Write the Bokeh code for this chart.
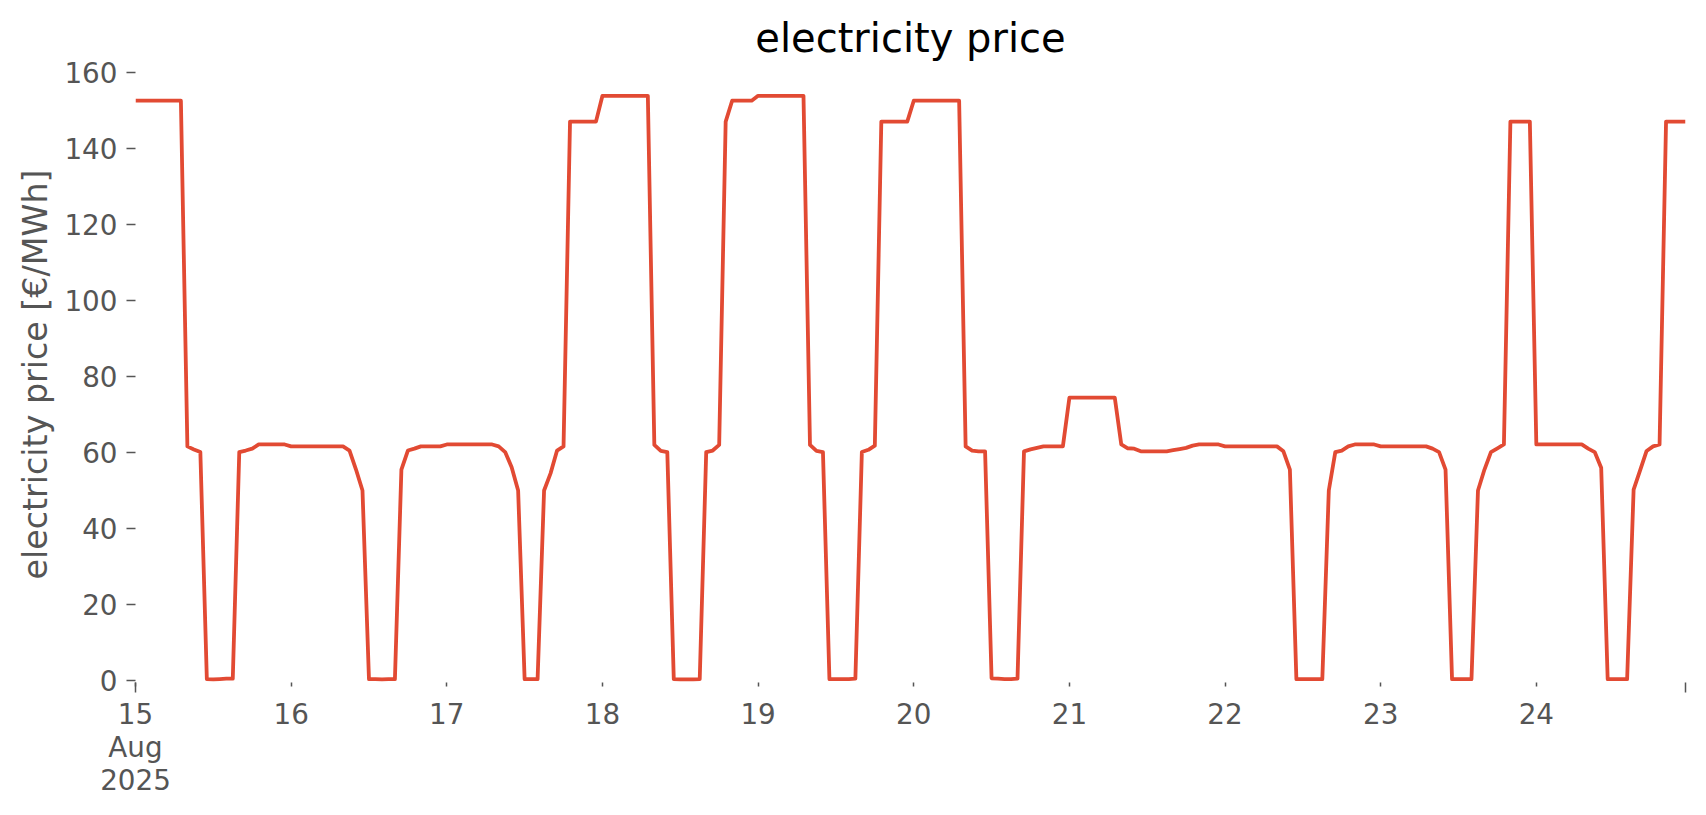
import pandas as pd
from bokeh.plotting import figure
from bokeh.models import FixedTicker, Range1d, ColumnDataSource
from bokeh.embed import file_html
from bokeh.resources import INLINE

# hourly electricity price [EUR/MWh], 15-24 Aug 2025
aug15 = [152.5] * 8 + [61.6, 60.8, 60.1] + [0.4, 0.3, 0.4, 0.5, 0.5] + [60.1, 60.5, 61.0] + [62.1] * 5
aug16 = [61.6] * 9 + [60.5, 55.5, 50.0] + [0.4, 0.4, 0.3, 0.4, 0.4] + [55.5, 60.5, 61.0] + [61.6] * 4
aug17 = [62.1] * 8 + [61.6, 60.1, 56.1, 50.0] + [0.4, 0.4, 0.4] + [50.0, 54.5, 60.5, 61.6] + [147.0] * 5
aug18 = [153.8] * 8 + [62.0, 60.4, 60.1] + [0.4, 0.3, 0.3, 0.3, 0.4] + [60.1, 60.5, 62.0, 147.0] + [152.5] * 4
aug19 = [153.8] * 8 + [62.0, 60.4, 60.1] + [0.4, 0.4, 0.4, 0.4, 0.5] + [60.1, 60.7, 61.8] + [147.0] * 5
aug20 = [152.5] * 8 + [61.6, 60.5, 60.3, 60.3] + [0.6, 0.5, 0.4, 0.4, 0.5] + [60.3, 60.8, 61.2] + [61.6] * 4
aug21 = [74.4] * 8 + [62.1, 61.1, 61.0] + [60.3] * 5 + [60.6, 60.9, 61.2, 61.8] + [62.1] * 4
aug22 = [61.6] * 9 + [60.3, 55.5] + [0.4] * 5 + [50.0, 60.1, 60.5, 61.6] + [62.1] * 4
aug23 = [61.6] * 8 + [61.0, 60.1, 55.5] + [0.4] * 4 + [50.0, 55.5, 60.1, 61.1, 62.1] + [147.0] * 4
aug24 = [62.1] * 8 + [61.0, 60.1, 56.0] + [0.4] * 4 + [50.2, 55.3, 60.4, 61.6, 62.1] + [147.0] * 4

day_labels = ["15\nAug\n2025", "16", "17", "18", "19", "20", "21", "22", "23", "24"]
y_ticks = [0, 20, 40, 60, 80, 100, 120, 140, 160]

prices = aug15 + aug16 + aug17 + aug18 + aug19 + aug20 + aug21 + aug22 + aug23 + aug24
times = pd.date_range("2025-08-15 00:00", periods=len(prices), freq="h")
hours = ((times - times[0]) / pd.Timedelta(hours=1)).astype(float).tolist()

src = ColumnDataSource(dict(x=hours, y=prices))

FONT = "DejaVu Sans"
GREY = "#555555"

p = figure(width=1706, height=812, output_backend="svg", toolbar_location=None,
           x_range=Range1d(hours[0], hours[-1]), y_range=Range1d(-0.5, 161.5),
           min_border_left=135, min_border_right=21, min_border_top=66, min_border_bottom=130,
           title="electricity price")
p.background_fill_color = "white"
p.border_fill_color = "white"
p.outline_line_color = None
p.grid.visible = False

p.title.align = "center"
p.title.text_font = FONT
p.title.text_font_size = "40px"
p.title.text_font_style = "normal"
p.title.text_color = "black"
p.title.standoff = 12

p.line("x", "y", source=src, line_color="#E24A33", line_width=3.8, line_join="round")

day_ticks = [i * 24 for i in range(len(day_labels))]
xa = p.xaxis[0]
xa.ticker = FixedTicker(ticks=day_ticks, minor_ticks=[hours[0], hours[-1]])
xa.major_label_overrides = {t: l for t, l in zip(day_ticks, day_labels)}
xa.axis_line_color = None
xa.major_tick_in = 0
xa.major_tick_out = 4
xa.minor_tick_in = 0
xa.minor_tick_out = 10
xa.major_tick_line_color = GREY
xa.minor_tick_line_color = GREY
xa.major_tick_line_width = 1.5
xa.minor_tick_line_width = 1.5
xa.major_label_text_font = FONT
xa.major_label_text_font_size = "27.8px"
xa.major_label_text_color = GREY
xa.major_label_text_line_height = 1.0
xa.major_label_standoff = 5

ya = p.yaxis[0]
ya.ticker = FixedTicker(ticks=y_ticks, minor_ticks=[])
ya.axis_line_color = None
ya.major_tick_in = 0
ya.major_tick_out = 9
ya.major_tick_line_color = GREY
ya.major_tick_line_width = 1.5
ya.major_label_text_font = FONT
ya.major_label_text_font_size = "27.8px"
ya.major_label_text_color = GREY
ya.major_label_standoff = 9
ya.axis_label = "electricity price [€/MWh]"
ya.axis_label_text_font = FONT
ya.axis_label_text_font_size = "33.3px"
ya.axis_label_text_font_style = "normal"
ya.axis_label_text_color = GREY
ya.axis_label_standoff = 6

open("out.html", "w").write(file_html(p, INLINE))
